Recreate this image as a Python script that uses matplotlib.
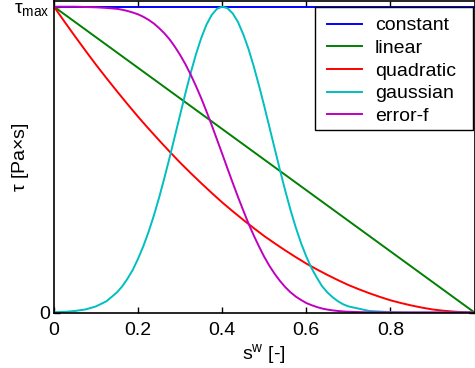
import numpy as np
import matplotlib
matplotlib.use("Agg")
import matplotlib.pyplot as plt
from matplotlib.patches import Rectangle

plt.rcParams["font.family"] = ["Liberation Sans", "DejaVu Sans"]
plt.rcParams["mathtext.fontset"] = "custom"
plt.rcParams["mathtext.rm"] = "Liberation Sans"
plt.rcParams["mathtext.it"] = "Liberation Sans"

# profiles of tau / tau_max over the normalised coordinate s^w
x_line = [0.0, 1.0]
constant = [1.0, 1.0]
linear = [1.0, 0.0]

x_quad = [0.0, 0.025, 0.05, 0.075, 0.1, 0.125, 0.15, 0.175, 0.2, 0.225,
          0.25, 0.275, 0.3, 0.325, 0.35, 0.375, 0.4, 0.425, 0.45, 0.475,
          0.5, 0.525, 0.55, 0.575, 0.6, 0.625, 0.65, 0.675, 0.7, 0.725,
          0.75, 0.775, 0.8, 0.825, 0.85, 0.875, 0.9, 0.925, 0.95, 0.975, 1.0]
quadratic = [1.0, 0.951, 0.903, 0.856, 0.81, 0.766, 0.723, 0.681, 0.64, 0.601,
             0.563, 0.526, 0.49, 0.456, 0.423, 0.391, 0.36, 0.331, 0.303, 0.276,
             0.25, 0.226, 0.203, 0.181, 0.16, 0.141, 0.123, 0.106, 0.09, 0.076,
             0.063, 0.051, 0.04, 0.031, 0.023, 0.016, 0.01, 0.006, 0.003, 0.001, 0.0]

x_fine = [0.0, 0.025, 0.05, 0.075, 0.1, 0.125, 0.15,
          0.1625, 0.175, 0.1875, 0.2, 0.2125, 0.225, 0.2375, 0.25,
          0.2625, 0.275, 0.2875, 0.3, 0.3125, 0.325, 0.3375, 0.35,
          0.3625, 0.375, 0.3875, 0.4, 0.4125, 0.425, 0.4375, 0.45,
          0.4625, 0.475, 0.4875, 0.5, 0.5125, 0.525, 0.5375, 0.55,
          0.5625, 0.575, 0.5875, 0.6, 0.6125, 0.625, 0.6375, 0.65,
          0.6625, 0.675, 0.6875, 0.7, 0.75, 0.8, 0.85, 0.9, 0.95, 1.0]
gaussian = [0.001, 0.002, 0.005, 0.010, 0.020, 0.037, 0.066,
            0.086, 0.111, 0.140, 0.176, 0.217, 0.264, 0.317, 0.376,
            0.440, 0.507, 0.577, 0.647, 0.717, 0.783, 0.844, 0.897,
            0.941, 0.973, 0.993, 1.0, 0.995, 0.978, 0.950, 0.910,
            0.862, 0.805, 0.742, 0.675, 0.605, 0.535, 0.465, 0.398,
            0.335, 0.278, 0.227, 0.183, 0.145, 0.114, 0.086, 0.066,
            0.050, 0.037, 0.027, 0.020, 0.005, 0.001, 0.0, 0.0, 0.0, 0.0]
error_f = [1.0, 1.0, 1.0, 0.999, 0.998, 0.996, 0.993,
           0.990, 0.986, 0.981, 0.975, 0.967, 0.957, 0.945, 0.930,
           0.913, 0.893, 0.869, 0.842, 0.812, 0.778, 0.741, 0.701,
           0.658, 0.613, 0.566, 0.519, 0.471, 0.424, 0.378, 0.334,
           0.291, 0.252, 0.216, 0.182, 0.152, 0.126, 0.103, 0.083,
           0.066, 0.052, 0.041, 0.031, 0.024, 0.018, 0.013, 0.0096,
           0.007, 0.005, 0.0035, 0.0024, 0.0005, 0.0, 0.0, 0.0, 0.0, 0.0]

W, H = 475, 368
fig = plt.figure(figsize=(W / 100, H / 100), dpi=100)
ax = fig.add_axes([54 / W, 1 - 312.5 / H, 420.5 / W, 311.3 / H])

lw = 1.4
ax.plot(x_line, constant, color=(0, 0, 1), lw=lw, label="constant")
ax.plot(x_line, linear, color=(0, 0.5, 0), lw=lw, label="linear")
ax.plot(x_quad, quadratic, color=(1, 0, 0), lw=lw, label="quadratic")
ax.plot(x_fine, gaussian, color=(0, 0.75, 0.75), lw=lw, label="gaussian")
ax.plot(x_fine, error_f, color=(0.75, 0, 0.75), lw=lw, label="error-f")

ax.set_xlim(0, 1)
ax.set_ylim(0, 1.018)
ax.set_xticks([0, 0.2, 0.4, 0.6, 0.8])
ax.set_xticklabels(["0", "0.2", "0.4", "0.6", "0.8"])
ax.set_yticks([0, 1])
ax.set_yticklabels(["0", r"$\tau_{\mathrm{max}}$"])
ax.tick_params(direction="in", length=4, width=1, labelsize=14,
               top=True, right=True)
ax.tick_params(axis="x", pad=6.5)
ax.tick_params(axis="y", pad=3)
for s in ax.spines.values():
    s.set_linewidth(1.2)

ax.set_xlabel(r"s$^{\mathrm{w}}$ [-]", fontsize=14, labelpad=2.5)
ax.set_ylabel(r"$\tau$ [Pa$\times$s]", fontsize=14)
ax.yaxis.set_label_coords(-0.055, 0.5)

# legend box: wider side padding than matplotlib's uniform borderpad
frame = Rectangle((315 / W, 1 - 130 / H), 158 / W, 123 / H,
                  transform=fig.transFigure, facecolor="white",
                  edgecolor="black", lw=1.0, zorder=4, clip_on=False)
ax.add_patch(frame)
leg = ax.legend(loc="upper left", bbox_to_anchor=(317.3 / W, 1 - 7 / H),
                bbox_transform=fig.transFigure, borderaxespad=0,
                fontsize=14, frameon=False, handlelength=1.8,
                handletextpad=0.65, labelspacing=0.26, borderpad=0.5)
leg.set_zorder(5)

fig.savefig("out.png", dpi=100)
